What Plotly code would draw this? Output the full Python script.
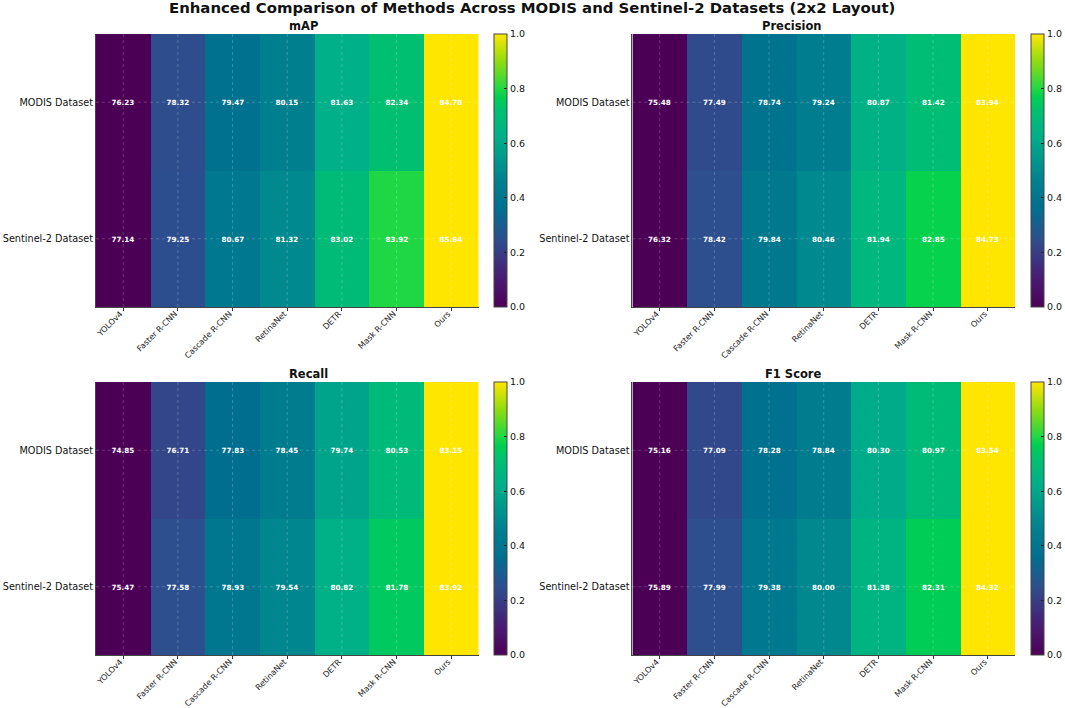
import plotly.graph_objects as go

methods = ["YOLOv4", "Faster R-CNN", "Cascade R-CNN", "RetinaNet", "DETR", "Mask R-CNN", "Ours"]
datasets = ["MODIS Dataset", "Sentinel-2 Dataset"]
map_modis = [76.23, 78.32, 79.47, 80.15, 81.63, 82.34, 84.78]
map_sentinel = [77.14, 79.25, 80.67, 81.32, 83.02, 83.92, 85.64]
precision_modis = [75.48, 77.49, 78.74, 79.24, 80.87, 81.42, 83.94]
precision_sentinel = [76.32, 78.42, 79.84, 80.46, 81.94, 82.85, 84.73]
recall_modis = [74.85, 76.71, 77.83, 78.45, 79.74, 80.53, 83.15]
recall_sentinel = [75.47, 77.58, 78.93, 79.54, 80.82, 81.78, 83.92]
f1_modis = [75.16, 77.09, 78.28, 78.84, 80.30, 80.97, 83.54]
f1_sentinel = [75.89, 77.99, 79.38, 80.00, 81.38, 82.31, 84.32]

panels = [
    ("mAP", map_modis, map_sentinel),
    ("Precision", precision_modis, precision_sentinel),
    ("Recall", recall_modis, recall_sentinel),
    ("F1 Score", f1_modis, f1_sentinel),
]
W, H = 1065, 708
boxes = [(96, 479, 34, 307), (633, 1016, 34, 307), (96, 479, 382, 655), (633, 1016, 382, 655)]
cbars = [494, 1031, 494, 1031]
scale = [[0, "#4b0055"], [0.1, "#4a1a72"], [0.25, "#2d4f8e"], [0.36, "#006f8f"], [0.46, "#00808f"],
         [0.63, "#00b088"], [0.72, "#00c070"], [0.77, "#00d050"], [0.8, "#22d844"], [0.9, "#90dc10"], [1, "#ffe600"]]


def norm(row):
    lo, hi = min(row), max(row)
    return [(v - lo) / (hi - lo) for v in row]


fig = go.Figure()
shapes = []
annotations = []
layout = {}
for i, (name, a, b) in enumerate(panels):
    l, r, t, bt = boxes[i]
    n = "" if i == 0 else str(i + 1)
    fig.add_trace(go.Heatmap(
        z=[norm(a), norm(b)], x=methods, y=datasets, text=[a, b],
        texttemplate="<b>%{text:.2f}</b>", textfont=dict(size=7.2, color="white", family="DejaVu Sans"),
        colorscale=scale, zmin=0, zmax=1, xaxis="x" + n, yaxis="y" + n, xgap=0, ygap=0,
        colorbar=dict(x=cbars[i] / W, xanchor="left", xref="paper", y=1 - bt / H, yanchor="bottom", yref="paper",
                      len=(bt - t) / H, lenmode="fraction", thickness=13, thicknessmode="pixels",
                      tickvals=[0, .2, .4, .6, .8, 1], ticktext=["0.0", "0.2", "0.4", "0.6", "0.8", "1.0"],
                      ticks="inside", ticklen=3, tickcolor="#222", outlinecolor="#444", outlinewidth=1,
                      tickfont=dict(size=9.5, family="DejaVu Sans", color="#111"), xpad=0, ypad=0),
    ))
    layout["xaxis" + n] = dict(domain=[l / W, r / W], anchor="y" + n, tickangle=-45, ticks="outside", ticklen=3,
                               tickcolor="#333", tickfont=dict(size=8.1, family="DejaVu Sans", color="#222"),
                               ticklabelstandoff=-5, ticklabelshift=-3,
                               showline=True, linecolor="#444", linewidth=1, showgrid=False, automargin=False)
    layout["yaxis" + n] = dict(domain=[1 - bt / H, 1 - t / H], anchor="x" + n, autorange="reversed",
                               tickfont=dict(size=9.7, family="DejaVu Sans", color="#111"),
                               showline=True, linecolor="#444", linewidth=1, showgrid=False, ticks="", automargin=False)
    ax, ay = "x" + n, "y" + n
    for m in methods:
        shapes.append(dict(type="line", xref=ax, yref=ay + " domain", x0=m, x1=m, y0=0, y1=1,
                           line=dict(color="rgba(255,255,255,0.3)", width=0.7, dash="dot")))
    for d in datasets:
        shapes.append(dict(type="line", xref=ax + " domain", yref=ay, x0=0, x1=1, y0=d, y1=d,
                           line=dict(color="rgba(255,255,255,0.3)", width=0.7, dash="dot")))
    annotations.append(dict(text="<b>" + name + "</b>", x=(l + r) / 2 / W, y=1 - (t - 8) / H, xref="paper", yref="paper",
                            yanchor="middle", showarrow=False, font=dict(size=11.5, family="DejaVu Sans", color="#111")))
annotations.append(dict(text="<b>Enhanced Comparison of Methods Across MODIS and Sentinel-2 Datasets (2x2 Layout)</b>",
                        x=532 / W, y=1 - 8 / H, xref="paper", yref="paper", yanchor="middle", showarrow=False,
                        font=dict(size=14.9, family="DejaVu Sans", color="#111")))
fig.update_layout(width=W, height=H, margin=dict(l=0, r=0, t=0, b=0), paper_bgcolor="white", plot_bgcolor="white",
                  shapes=shapes, annotations=annotations, **layout)
fig.write_html("out.html", config={"displayModeBar": False}, post_script="document.body.style.margin='0';")
